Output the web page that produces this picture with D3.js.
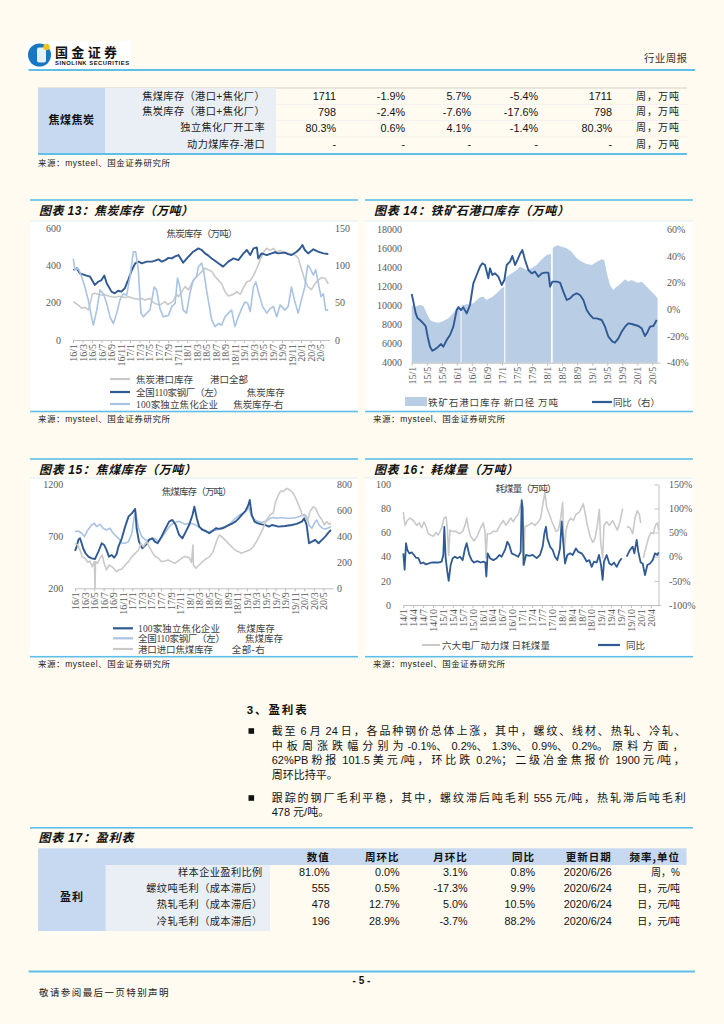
<!DOCTYPE html>
<html><head><meta charset="utf-8">
<script src="https://cdn.jsdelivr.net/npm/d3@7"></script>
<style>
html,body{margin:0;padding:0;background:#fffbf0;}
svg{display:block;}
</style></head><body>
<svg id="page" width="724" height="1024"></svg>
<script>
// ---------------- DATA ----------------
// top table (焦煤焦炭)
const coalGroup = "焦煤焦炭";
const coalLabels = ["焦煤库存（港口+焦化厂）","焦炭库存（港口+焦化厂）","独立焦化厂开工率","动力煤库存-港口"];
const coalValues = [
  ["1711","-1.9%","5.7%","-5.4%","1711"],
  ["798","-2.4%","-7.6%","-17.6%","798"],
  ["80.3%","0.6%","4.1%","-1.4%","80.3%"],
  ["-","-","-","-","-"]
];
const coalUnits = ["周，万吨","周，万吨","周，万吨","周，万吨"];

// Chart 13 焦炭库存 : [months since 2016-01, value]
const c13Ticks = ["16/1","16/3","16/5","16/7","16/9","16/11","17/1","17/3","17/5","17/7","17/9","17/11","18/1","18/3","18/5","18/7","18/9","18/11","19/1","19/3","19/5","19/7","19/9","19/11","20/1","20/3","20/5"];
const c13LeftTicks = [0,200,400,600];
const c13RightTicks = [0,50,100,150];
const cokePort = [[0.07,205],[1.12,187],[1.82,170],[2.53,175],[3.23,161],[3.65,200],[4.07,246],[4.63,250],[5.33,245],[6.04,241],[6.74,243],[7.44,236],[8.14,232],[8.84,229],[9.54,234],[10.25,232],[10.95,228],[11.65,232],[12.7,223],[13.75,218],[14.46,222],[15.16,214],[16.2,223],[16.7,205],[17.26,196],[18.3,188],[19.4,205],[19.9,190],[20.4,196],[21.1,210],[21.8,245],[22.2,232],[22.9,259],[23.6,286],[24.3,268],[25.0,304],[25.7,330],[26.4,348],[27.1,366],[27.8,384],[28.5,375],[29.2,368],[29.9,340],[30.6,321],[31.3,300],[32.0,259],[32.7,236],[33.4,241],[34.1,250],[34.5,259],[35.2,245],[35.9,280],[36.6,312],[37.3,318],[38.0,345],[38.7,384],[39.4,429],[40.1,470],[40.8,491],[41.5,480],[42.2,491],[42.9,470],[43.6,480],[44.6,470],[45.7,462],[46.7,455],[47.4,440],[48.1,380],[48.8,320],[49.5,285],[50.2,270],[50.9,300],[51.6,321],[52.4,335],[53.1,330],[53.75,300]];
const cokeSteel110 = [[0.07,375],[0.77,384],[1.47,357],[2.5,348],[3.6,339],[4.6,295],[5.3,312],[6.0,321],[6.6,345],[7.1,304],[8.1,259],[8.8,250],[9.5,264],[10.2,259],[10.9,277],[11.6,321],[12.4,375],[13.1,411],[13.8,420],[14.5,411],[15.5,420],[16.6,420],[17.3,425],[18.0,432],[18.7,420],[19.4,428],[20.1,440],[20.8,437],[21.5,448],[22.2,455],[23.2,414],[24.3,446],[25.3,473],[26.4,491],[27.1,482],[27.8,464],[28.5,452],[29.2,437],[29.9,425],[30.6,411],[31.6,393],[32.7,420],[33.8,437],[34.8,428],[35.9,464],[36.6,482],[37.3,455],[38.0,491],[38.7,496],[39.0,437],[39.7,464],[40.8,455],[41.8,464],[42.5,470],[43.2,464],[44.6,468],[45.3,460],[46.0,455],[47.1,473],[47.8,490],[48.3,509],[48.8,482],[49.5,464],[50.6,486],[51.6,473],[52.7,464],[53.75,461]];
const cokeIndep100 = [[0.07,109],[0.4,94],[1.1,96],[1.8,85],[2.5,71],[3.2,54],[3.9,31],[4.3,20],[5.0,40],[5.7,67],[6.4,62],[7.1,49],[7.8,31],[8.5,22],[9.2,36],[9.9,54],[10.6,62],[11.3,60],[12.0,85],[12.7,118],[13.2,118],[13.75,94],[14.3,36],[14.8,31],[15.5,36],[16.2,40],[17.1,71],[17.6,67],[18.3,42],[19.0,31],[20.1,33],[20.8,45],[21.5,49],[22.0,83],[22.5,71],[23.2,40],[23.9,36],[24.6,62],[25.3,80],[26.0,85],[26.4,98],[27.1,103],[27.6,89],[28.1,67],[29.2,27],[29.9,18],[30.6,22],[31.3,20],[32.0,31],[32.7,36],[33.4,40],[34.1,18],[34.8,31],[35.5,42],[36.2,51],[36.8,49],[37.3,38],[38.0,71],[38.5,78],[39.0,65],[39.9,45],[40.8,36],[41.5,42],[42.2,45],[42.9,31],[43.6,47],[44.6,40],[45.3,45],[46.0,71],[46.6,54],[47.4,36],[48.1,54],[48.8,71],[49.4,100],[49.9,96],[50.6,87],[51.1,94],[51.6,78],[52.2,58],[52.7,62],[53.2,40],[53.75,40]];

// Chart 14 铁矿石港口库存 : [months since 2015-01, value]
const c14Ticks = ["15/1","15/5","15/9","16/1","16/5","16/9","17/1","17/5","17/9","18/1","18/5","18/9","19/1","19/5","19/9","20/1","20/5"];
const c14LeftTicks = [4000,6000,8000,10000,12000,14000,16000,18000];
const c14RightTicks = [-40,-20,0,20,40,60];
const orePort = [[0,10055],[0.88,9880],[2.2,10055],[3.1,9950],[3.98,9180],[4.87,8480],[5.75,8305],[7.1,8200],[7.97,8305],[8.9,8480],[9.75,8655],[10.6,9000],[11.96,9700],[12.4,9950],[13.0,10000],[13.1,null],[13.25,10020],[13.7,10055],[15.1,10160],[16.4,10230],[17.3,10580],[18.2,10860],[19.05,10930],[19.9,10580],[21.3,10860],[22.6,11280],[23.9,11805],[24.6,11980],[24.75,null],[24.9,12900],[25.3,13030],[26.6,13380],[27.9,13730],[28.8,14080],[29.7,13905],[30.6,13730],[31.9,13905],[33.2,14255],[34.6,14850],[35.9,15300],[37.05,15410],[37.3,null],[37.5,16000],[37.9,16180],[38.8,16320],[39.9,16180],[41.2,16000],[42.5,15655],[43.9,14955],[45.2,14600],[46.5,14360],[47.9,14255],[49.2,14600],[50.5,14850],[51.2,14780],[51.9,13380],[52.7,12155],[53.6,11630],[54.5,11980],[55.7,12330],[56.7,12750],[57.6,12505],[58.5,12680],[59.4,12500],[60.3,12400],[61.2,12500],[62.05,12155],[62.9,11805],[63.8,11455],[64.7,11105],[65.4,10755]];
const oreYoY = [[0,11.5],[0.44,5.75],[1.06,-3],[1.59,-6.75],[2.21,-8],[3.1,-10.5],[3.71,-12.5],[4.25,-20.5],[4.87,-28],[5.49,-31],[6.2,-30],[7.08,-28],[7.8,-26],[8.41,-28],[9.3,-23],[10.19,-19.25],[11.07,-13],[11.96,-0.5],[12.4,1.5],[13.11,-0.5],[13.73,1.5],[14.62,-3],[15.5,3.25],[16.39,19.5],[17.28,25.75],[18.17,32],[18.79,34.5],[19.5,33.25],[20.38,23.25],[20.82,30.75],[21.45,25.75],[22.16,27],[23.04,24.5],[23.93,18.25],[24.64,22],[25.26,33.25],[26.15,35.75],[26.77,40],[27.48,33.25],[28.19,37.5],[28.81,41.5],[29.43,44.5],[30.14,37],[31.02,29.5],[31.91,27],[32.8,28.25],[33.69,24.5],[34.57,27],[35.46,27.5],[36.35,27.5],[36.79,17],[37.41,20.75],[38.56,20.75],[39.45,20],[40.33,13.25],[41.22,7],[42.1,8.25],[42.99,10.75],[43.88,12],[44.76,10.75],[45.65,7],[46.54,-0.5],[47.42,-4.25],[48.31,-6.75],[49.2,-6.75],[50.52,-8],[51.41,-13],[52.3,-20.5],[53.36,-24.25],[54.07,-25],[54.96,-21.75],[55.84,-16.75],[56.73,-13],[57.61,-10.5],[58.5,-11],[59.39,-11.75],[60.27,-12.5],[61.16,-14.25],[62.04,-20],[62.75,-16.75],[63.37,-13],[64.26,-12.5],[65.15,-8]];

// Chart 15 焦煤库存 : [months since 2016-01, value]
const c15Ticks = c13Ticks;
const c15LeftTicks = [200,700,1200];
const c15RightTicks = [0,200,400,600,800];
const coalIndep100 = [[0,559],[0.35,601],[0.7,665],[1.05,681],[1.4,633],[1.7,585],[2.2,537],[2.8,504],[3.5,488],[4.2,482],[4.9,553],[5.6,633],[6.1,617],[6.6,569],[7.1,504],[7.7,520],[8.2,495],[8.7,527],[9.1,601],[9.8,681],[10.5,793],[11.2,889],[11.9,921],[12.6,963],[12.9,777],[13.4,649],[14.1,585],[14.8,617],[15.5,665],[16.2,681],[16.7,649],[17.3,633],[18.1,697],[18.8,761],[19.7,841],[20.4,857],[21.1,809],[21.8,713],[22.5,681],[23.2,745],[23.9,809],[24.6,905],[25.0,985],[25.5,873],[26.0,793],[26.7,761],[27.4,751],[28.1,729],[28.8,751],[29.5,777],[30.2,771],[30.9,777],[31.6,793],[32.3,809],[33.0,825],[33.6,841],[34.3,873],[35.0,911],[35.7,944],[36.3,1001],[36.6,1049],[37.0,905],[37.6,841],[38.3,825],[39.1,815],[39.8,809],[40.6,793],[41.3,809],[42.6,793],[44.0,799],[45.4,809],[46.4,819],[47.5,841],[48.0,873],[48.5,809],[49.0,633],[49.6,649],[50.3,665],[51.0,633],[51.7,665],[52.4,697],[53.1,738],[53.6,761]];
const coalSteel110 = [[0,745],[0.7,751],[1.4,729],[1.95,697],[2.7,761],[3.5,809],[4.1,825],[4.5,793],[5.2,815],[5.9,777],[6.6,761],[7.3,777],[8.0,729],[8.7,697],[9.4,665],[9.9,633],[10.5,633],[11.2,649],[11.9,729],[12.4,889],[12.7,931],[13.3,777],[14.0,697],[14.7,665],[15.4,665],[16.1,681],[16.8,675],[17.5,649],[18.1,681],[18.8,729],[19.5,777],[20.2,815],[21.3,841],[22.0,841],[23.0,815],[24.1,825],[25.0,815],[25.8,793],[26.7,771],[27.6,738],[28.6,751],[29.7,761],[30.6,783],[31.4,793],[32.1,809],[32.8,835],[33.6,873],[34.6,911],[35.3,921],[36.0,953],[36.4,976],[37.0,889],[37.7,857],[38.4,841],[39.2,835],[40.1,847],[40.8,873],[41.5,880],[42.2,873],[43.3,880],[44.3,873],[45.4,873],[46.4,880],[47.5,899],[48.0,911],[48.5,889],[49.0,809],[49.6,777],[50.1,825],[50.6,857],[51.1,809],[51.8,777],[52.5,771],[53.1,783],[53.6,793]];
const coalPortImport = [[0,346],[0.56,333],[1.05,295],[1.5,244],[2.1,231],[2.7,200],[3.1,210],[3.6,167],[4.05,205],[4.2,0],[4.3,205],[4.7,192],[5.2,231],[5.7,256],[6.1,192],[6.6,141],[7.1,179],[7.7,167],[8.2,149],[8.7,128],[9.1,141],[9.8,149],[10.5,179],[11.2,205],[11.9,244],[12.6,269],[13.3,295],[13.8,346],[14.3,320],[15.0,359],[15.5,320],[16.1,282],[16.8,244],[17.5,231],[18.1,205],[18.8,210],[19.5,218],[20.2,205],[20.9,192],[21.6,210],[22.3,231],[23.0,244],[23.9,236],[24.4,200],[24.7,333],[24.8,179],[25.3,154],[26.0,179],[26.7,205],[27.4,226],[28.2,244],[28.9,282],[29.6,359],[30.2,410],[30.7,397],[31.4,372],[32.1,346],[32.8,320],[33.5,295],[34.2,282],[34.9,269],[35.6,282],[36.6,295],[37.3,320],[38.0,359],[38.7,410],[39.4,462],[40.1,526],[40.8,564],[41.5,577],[42.0,667],[42.6,718],[43.1,749],[43.6,744],[44.3,769],[45.0,756],[45.7,731],[46.4,679],[47.1,615],[47.6,564],[48.2,551],[48.7,513],[49.2,590],[49.9,628],[50.4,615],[51.0,564],[51.7,526],[52.2,487],[52.7,513],[53.2,492],[53.6,500]];

// Chart 16 耗煤量 : [months since 2014-01, value]
const c16Ticks = ["14/1","14/4","14/7","14/10","15/1","15/4","15/7","15/10","16/1","16/4","16/7","16/10","17/1","17/4","17/7","17/10","18/1","18/4","18/7","18/10","19/1","19/4","19/7","19/10","20/1","20/4"];
const c16LeftTicks = [0,20,40,60,80,100];
const c16RightTicks = [-100,-50,0,50,100,150];
const dailyBurn = [[0.01,77],[0.52,66],[1.22,70],[2.03,72],[3.04,70],[4.05,66],[4.86,68],[5.57,64],[6.27,69],[6.88,65],[7.59,59],[8.29,58],[9.1,57],[9.91,60],[10.62,58],[11.63,64],[12.33,72],[12.94,73],[13.34,64],[13.75,41],[14.15,62],[14.96,61],[15.97,61],[16.98,59],[17.99,61],[18.7,66],[19.2,72],[19.71,64],[20.41,57],[21.42,53],[22.43,57],[23.44,64],[24.25,68],[24.76,61],[25.06,39],[25.46,59],[26.27,59],[27.28,61],[28.29,61],[29.3,66],[30.31,70],[31.12,66],[31.83,69],[32.54,72],[33.34,69],[34.15,73],[34.86,75],[35.57,83],[35.97,80],[36.37,33],[36.88,65],[37.89,66],[38.9,68],[39.91,66],[40.92,69],[41.63,72],[42.43,86],[42.94,93],[43.44,81],[44.25,75],[45.06,69],[45.67,65],[46.27,61],[46.98,62],[47.69,72],[48.29,85],[48.7,41],[49.3,62],[50.01,69],[50.72,72],[51.53,70],[52.33,75],[53.34,77],[54.05,81],[54.56,84],[55.16,75],[55.77,66],[56.58,57],[57.38,52],[58.09,55],[58.8,66],[59.4,79],[59.81,52],[60.41,39],[60.82,66],[61.63,69],[62.43,66],[63.44,70],[64.15,66],[64.86,62],[65.67,69],[66.47,80],[67.1,null],[67.69,65],[68.7,64],[69.51,59],[70.21,72],[70.92,78],[71.53,75],[71.93,68],[72.4,null],[72.74,39],[73.55,48],[74.25,55],[74.96,60],[75.77,59],[76.37,66],[76.98,68],[77.38,62]];
const dailyBurnYoY = [[0.01,7],[0.41,-27],[0.82,28],[1.22,14],[1.83,7],[2.54,9],[3.24,3.6],[3.85,-2],[4.56,-3],[5.26,-14],[6.07,-12],[6.88,-16],[7.69,-14],[8.6,-12],[9.61,-12],[10.62,-12],[11.63,-10],[12.13,3.6],[12.43,62],[12.84,-3],[13.34,-31],[13.75,-50],[14.35,-17],[14.96,-3],[15.67,0],[16.37,-3],[17.18,0],[17.99,-7],[18.7,17],[19.2,28],[20.01,3.6],[20.72,-7],[21.42,-12],[22.43,-9],[23.44,-12],[24.25,-10],[24.86,-12],[25.16,-41],[25.57,7],[26.27,-3],[27.28,-7],[28.29,-3],[29.1,3.6],[29.81,0],[30.82,14],[31.53,31],[32.13,24],[32.84,7],[33.85,3.6],[34.86,0],[35.57,10],[35.87,117],[36.17,100],[36.47,-17],[37.18,3.6],[38.19,2],[39.2,3.6],[40.41,-3],[41.42,3.6],[42.23,21],[42.74,48],[43.24,62],[43.65,38],[44.45,21],[45.26,14],[45.97,0],[46.68,-7],[47.48,17],[47.99,73],[48.49,28],[49.0,-14],[49.71,3.6],[50.52,7],[51.32,3.6],[52.33,17],[53.04,10],[54.05,7],[54.76,0],[55.57,-10],[56.37,-7],[57.08,-21],[57.79,-10],[58.6,-12],[59.3,3.6],[59.91,-17],[60.41,-48],[60.82,-10],[61.63,3.6],[62.43,-14],[63.14,-17],[63.85,-12],[64.66,-21],[65.46,-10],[66.17,-3],[67.1,null],[67.69,0],[68.7,14],[69.51,21],[70.01,7],[70.72,35],[71.22,10],[71.93,-12],[72.54,-14],[73.24,-38],[73.95,-17],[74.76,-14],[75.57,-7],[76.27,7],[76.98,3.6],[77.38,9]];

// Table 17 盈利表
const profitHeader = ["数值","周环比","月环比","同比","更新日期","频率,单位"];
const profitGroup = "盈利";
const profitLabels = ["样本企业盈利比例","螺纹吨毛利（成本滞后）","热轧毛利（成本滞后）","冷轧毛利（成本滞后）"];
const profitValues = [
  ["81.0%","0.0%","3.1%","0.8%","2020/6/26","周，%"],
  ["555","0.5%","-17.3%","9.9%","2020/6/24","日，元/吨"],
  ["478","12.7%","5.0%","10.5%","2020/6/24","日，元/吨"],
  ["196","28.9%","-3.7%","88.2%","2020/6/24","日，元/吨"]
];

// ---------------- DRAWING ----------------
const svg = d3.select("#page");
const BG="#fffbf0", CYAN="#5ebfe9";
const DARK="#2f5a93", LIGHT="#a9c3e4", GRAY="#c9c9c9", AREA="#b9cde5";
const TBLUE="#c6d9f0", TLIGHT="#eaeef5";
const CJK='"Noto Sans CJK SC","Noto Sans",sans-serif';
const MIX='"Liberation Sans","Noto Sans CJK SC",sans-serif';
const SERIF='"Liberation Serif","DejaVu Serif",serif';
const SERIFMIX='"Liberation Serif","Noto Sans CJK SC",serif';
const SANS='"Liberation Sans",Arial,sans-serif';

svg.append("rect").attr("width",724).attr("height",1024).attr("fill",BG);

function txt(x,y,s,o={}){
  const t=svg.append("text").attr("x",x).attr("y",y).text(s)
    .attr("font-family",o.ff||CJK).attr("font-size",o.fs||10)
    .attr("fill",o.fill||"#222").attr("text-anchor",o.anchor||"start");
  if(o.fw) t.attr("font-weight",o.fw);
  if(o.italic) t.attr("font-style","italic");
  if(o.ls) t.attr("letter-spacing",o.ls);
  if(o.tl) t.attr("textLength",o.tl).attr("lengthAdjust",o.la||"spacing");
  return t;
}
// justified paragraph line: extra space goes to CJK glyphs only, Latin runs stay tight
function justLine(x,y,s,target){
  const t=svg.append("text").attr("x",x).attr("y",y).attr("font-family",MIX).attr("font-size",11).attr("fill","#111");
  const runs=s.match(/[\u3000-\u9fff\uff00-\uffef]+|[^\u3000-\u9fff\uff00-\uffef]+/g);
  const cjkSpans=[]; let n=0;
  runs.forEach(r=>{
    const isC=/[\u3000-\u9fff\uff00-\uffef]/.test(r);
    const sp=t.append("tspan").text(r).attr("font-family",isC?CJK:SANS);
    if(isC){cjkSpans.push(sp);n+=r.length;}
  });
  if(target){
    const w=t.node().getComputedTextLength();
    const ls=Math.max(0,(target-w)/n);
    cjkSpans.forEach(sp=>sp.attr("letter-spacing",ls));
  }
  return t;
}
function hline(x1,x2,y,c,w){svg.append("line").attr("x1",x1).attr("x2",x2).attr("y1",y).attr("y2",y).attr("stroke",c).attr("stroke-width",w);}

// header
svg.append("rect").attr("x",25).attr("y",41).attr("width",106).attr("height",28).attr("fill","#fff");
svg.append("circle").attr("cx",39.5).attr("cy",55).attr("r",11.5).attr("fill","#1877c0");
svg.append("rect").attr("x",37).attr("y",47.5).attr("width",9).attr("height",15).attr("rx",2).attr("fill","#e4f1fa");
svg.append("circle").attr("cx",46.5).attr("cy",47).attr("r",3.2).attr("fill","#f3c11b");
txt(55,57,"国金证券",{fs:13,fw:"bold",fill:"#111",tl:62});
txt(55,64.5,"SINOLINK SECURITIES",{ff:SANS,fs:5.8,fw:"bold",fill:"#111",tl:74});
txt(644,62,"行业周报",{fs:10.5,fill:"#333",tl:43});
svg.append("rect").attr("x",28.6).attr("y",69).attr("width",666.5).attr("height",2).attr("fill",CYAN);

// top table
hline(38,687,88,"#c8c8c8",0.8);
svg.append("rect").attr("x",38).attr("y",88).attr("width",67).attr("height",66).attr("fill",TBLUE);
svg.append("rect").attr("x",105).attr("y",88).attr("width",171).attr("height",66).attr("fill",TLIGHT);
[104.5,120.5,137].forEach(y=>hline(105,687,y,"#ececec",0.6));
svg.append("rect").attr("x",38).attr("y",153).attr("width",649).attr("height",2).attr("fill",CYAN);
txt(71.5,124,coalGroup,{fs:11,fw:"bold",anchor:"middle",ls:0.5,fill:"#111"});
const coalRowY=[96,111.5,127.5,144];
const coalColX=[336,405,471,538,612];
coalLabels.forEach((l,i)=>{
  txt(265,coalRowY[i]+3.8,l,{ff:MIX,fs:10.2,anchor:"end",fill:"#222",ls:0.4});
  coalValues[i].forEach((v,j)=>txt(coalColX[j],coalRowY[i]+4,v,{ff:SANS,fs:10.8,anchor:"end",fill:"#111"}));
  txt(636,coalRowY[i]+3.8,coalUnits[i],{fs:10,fill:"#222",tl:43});
});
txt(38,166,"来源：mysteel、国金证券研究所",{ff:MIX,fs:8.5,fill:"#222",tl:132});

// panels
function panel(x0,x1,yTop,yBody,yBot,title,titleLen){
  svg.append("rect").attr("x",x0).attr("y",yBody).attr("width",x1-x0).attr("height",yBot-yBody).attr("fill","#fff");
  svg.append("rect").attr("x",x0).attr("y",yTop-0.8).attr("width",x1-x0).attr("height",1.6).attr("fill",CYAN);
  hline(x0,x1,yBody,"#d6ebf4",0.8);
  txt(x0+9,yTop+14.5,title,{ff:MIX,fs:12,fw:"bold",italic:true,fill:"#111",tl:titleLen});
  svg.append("rect").attr("x",x0).attr("y",yBot-0.8).attr("width",x1-x0).attr("height",1.6).attr("fill",CYAN);
  txt(x0+8,yBot+10,"来源：mysteel、国金证券研究所",{ff:MIX,fs:8.5,fill:"#222",tl:132});
}
panel(30,358,200,221,411.5,"图表 13：焦炭库存（万吨）",154);
panel(365,693,200,221,411.5,"图表 14：铁矿石港口库存（万吨）",195);
panel(30,358,459,478,656.7,"图表 15：焦煤库存（万吨）",157);
panel(365,693,459,478,656.7,"图表 16：耗煤量（万吨）",144);

function monthOf(lbl,base){const [y,m]=lbl.split("/").map(Number);return (y-base)*12+(m-1);}
function styleText(sel,ff){sel.selectAll("text").attr("font-family",ff||SERIF).attr("font-size",10).attr("fill","#595959");}
function yLeft(scale,vals,fmt,x){
  const a=svg.append("g").attr("transform",`translate(${x},0)`).call(d3.axisLeft(scale).tickValues(vals).tickFormat(fmt).tickSize(0).tickPadding(0));
  a.select(".domain").remove(); styleText(a); return a;
}
function yRight(scale,vals,fmt,x,tick){
  const a=svg.append("g").attr("transform",`translate(${x},0)`).call(d3.axisRight(scale).tickValues(vals).tickFormat(fmt).tickSizeInner(tick||0).tickSizeOuter(0).tickPadding(tick?(-tick+6.5):0));
  if(!tick) a.select(".domain").remove(); else {a.select(".domain").attr("stroke","#bfbfbf");a.selectAll("line").attr("stroke","#bfbfbf");}
  styleText(a); return a;
}
function xRot(scale,labels,base,y){
  const pos=labels.map(l=>monthOf(l,base));
  const a=svg.append("g").attr("transform",`translate(0,${y})`).call(d3.axisBottom(scale).tickValues(pos).tickFormat((d,i)=>labels[i]).tickSizeInner(3).tickSizeOuter(0));
  a.select(".domain").attr("stroke","#bfbfbf");
  a.selectAll("line").attr("stroke","#bfbfbf");
  a.selectAll("text").attr("transform","rotate(-90)").attr("text-anchor","end").attr("x",-4).attr("y",0).attr("dy","0.35em")
    .attr("font-family",SERIF).attr("font-size",10).attr("fill","#595959");
  return a;
}
function drawLine(data,x,y,color,w){
  svg.append("path").datum(data).attr("fill","none").attr("stroke",color).attr("stroke-width",w).attr("stroke-linejoin","round")
   .attr("d",d3.line().defined(d=>d[1]!=null).x(d=>x(d[0])).y(d=>y(d[1])));
}
function legLine(x1,x2,y,color,w){hline(x1,x2,y,color,w);}
function legText(x,y,s,len){txt(x,y,s,{ff:SERIFMIX,fs:9.5,fill:"#404040",tl:len});}

// ---- Chart 13
{
  const x=d3.scaleLinear().domain([0,54]).range([73,329.5]);
  const yL=d3.scaleLinear().domain([0,600]).range([340,228]);
  const yR=d3.scaleLinear().domain([0,150]).range([340,228]);
  yLeft(yL,c13LeftTicks,d3.format("d"),61);
  yRight(yR,c13RightTicks,d3.format("d"),335);
  xRot(x,c13Ticks,16,340);
  txt(202,236.5,"焦炭库存（万吨）",{fs:9.5,anchor:"middle",fill:"#404040",tl:71});
  drawLine(cokePort,x,yL,GRAY,1.6);
  drawLine(cokeSteel110,x,yL,DARK,1.9);
  drawLine(cokeIndep100,x,yR,LIGHT,1.6);
  const L=[[GRAY,"焦炭港口库存",57,"港口全部",210,38],[DARK,"全国110家钢厂（左）",87,"焦炭库存",246.7,38],[LIGHT,"100家独立焦化企业",82,"焦炭库存-右",233.3,50]];
  [379,392,404].forEach((yy,i)=>{legLine(110,130,yy,L[i][0],2.2);legText(136,yy+3.5,L[i][1],L[i][2]);legText(L[i][4],yy+3.5,L[i][3],L[i][5]);});
}
// ---- Chart 14
{
  const x=d3.scaleLinear().domain([0,66]).range([411.7,659.9]);
  const yL=d3.scaleLinear().domain([4000,18000]).range([362.7,229.3]);
  const yR=d3.scaleLinear().domain([-40,60]).range([362.7,229.3]);
  svg.append("path").datum(orePort).attr("fill",AREA)
    .attr("d",d3.area().defined(d=>d[1]!=null).x(d=>x(d[0])).y0(yL(4000)).y1(d=>yL(d[1])));
  yLeft(yL,c14LeftTicks,d3.format("d"),402);
  yRight(yR,c14RightTicks,d=>d+"%",667);
  xRot(x,c14Ticks,15,362.7);
  drawLine(oreYoY,x,yR,DARK,1.9);
  svg.append("rect").attr("x",405).attr("y",397).attr("width",22).attr("height",9).attr("fill",AREA);
  txt(428,405.5,"铁矿石港口库存 新口径 万吨",{fs:9.5,fill:"#404040",tl:130});
  legLine(592,612,402,DARK,2.2);
  txt(613,405.5,"同比（右）",{fs:9.5,fill:"#404040",tl:47});
}
// ---- Chart 15
{
  const x=d3.scaleLinear().domain([0,54]).range([75,332.9]);
  const yL=d3.scaleLinear().domain([200,1200]).range([588.3,484.3]);
  const yR=d3.scaleLinear().domain([0,800]).range([588.3,484.3]);
  yLeft(yL,c15LeftTicks,d3.format("d"),63.3);
  yRight(yR,c15RightTicks,d3.format("d"),337);
  xRot(x,c15Ticks,16,588.3);
  txt(196.7,494.5,"焦煤库存（万吨）",{fs:9.5,anchor:"middle",fill:"#404040",tl:70});
  drawLine(coalSteel110,x,yL,LIGHT,1.6);
  drawLine(coalIndep100,x,yL,DARK,1.9);
  drawLine(coalPortImport,x,yR,GRAY,1.6);
  const L=[[DARK,"100家独立焦化企业",82,"焦煤库存",236.7,38],[LIGHT,"全国110家钢厂（左）",87,"焦煤库存",245,38],[GRAY,"港口进口焦煤库存",75,"全部-右",231.7,33]];
  [628.3,638.3,649].forEach((yy,i)=>{legLine(113,133,yy,L[i][0],2.2);legText(138,yy+3.5,L[i][1],L[i][2]);legText(L[i][4],yy+3.5,L[i][3],L[i][5]);});
}
// ---- Chart 16
{
  const x=d3.scaleLinear().domain([0,78]).range([403.3,660.7]);
  const yL=d3.scaleLinear().domain([0,100]).range([605,484.3]);
  const yR=d3.scaleLinear().domain([-100,150]).range([605,484.3]);
  yLeft(yL,c16LeftTicks,d3.format("d"),391);
  yRight(yR,c16RightTicks,d=>d+"%",658.5,-4);
  xRot(x,c16Ticks,14,605);
  txt(526,491.5,"耗煤量（万吨）",{fs:9.5,anchor:"middle",fill:"#404040",tl:61});
  drawLine(dailyBurn,x,yL,GRAY,1.6);
  drawLine(dailyBurnYoY,x,yR,DARK,1.8);
  legLine(422,440,645,GRAY,2);
  txt(442,648.5,"六大电厂动力煤 日耗煤量",{fs:9.5,fill:"#404040",tl:108});
  legLine(598,620,645,DARK,2.2);
  txt(626,648.5,"同比",{fs:9.5,fill:"#404040"});
}

// section 3 text
txt(246.7,714,"3、盈利表",{ff:MIX,fs:11.5,fw:"bold",fill:"#111",tl:60});
const paraLines=[
  ["截至 6 月 24 日，各品种钢价总体上涨，其中，螺纹、线材、热轧、冷轧、",735,416],
  ["中板周涨跌幅分别为-0.1%、0.2%、1.3%、0.9%、0.2%。原料方面，",749.7,416],
  ["62%PB 粉报 101.5 美元/吨，环比跌 0.2%；二级冶金焦报价 1900 元/吨，",764,416],
  ["周环比持平。",779,null],
  ["跟踪的钢厂毛利平稳，其中，螺纹滞后吨毛利 555 元/吨，热轧滞后吨毛利",802,416],
  ["478 元/吨。",816,null]
];
paraLines.forEach(p=>justLine(271.7,p[1],p[0],p[2]));
[731,798].forEach(y=>svg.append("rect").attr("x",248.5).attr("y",y-2.8).attr("width",5.6).attr("height",5.6).attr("fill","#111"));

// table 17
svg.append("rect").attr("x",30).attr("y",827).attr("width",663).attr("height",1.6).attr("fill",CYAN);
txt(38.4,842,"图表 17：盈利表",{ff:MIX,fs:12,fw:"bold",italic:true,fill:"#111",tl:95});
svg.append("rect").attr("x",38).attr("y",848.3).attr("width",648.6).attr("height",16.7).attr("fill",TBLUE);
svg.append("rect").attr("x",38).attr("y",865).attr("width",67.8).attr("height",66).attr("fill",TBLUE);
svg.append("rect").attr("x",105.8).attr("y",865).attr("width",164.2).attr("height",66).attr("fill",TLIGHT);
const pColX=[329.7,399.5,467.7,535,611.7,680];
profitHeader.forEach((h,j)=>txt(pColX[j],860.5,h,{fs:10.5,fw:"bold",anchor:"end",fill:"#111",ls:1}));
txt(72,900.5,profitGroup,{fs:11,fw:"bold",anchor:"middle",fill:"#111",ls:1});
const pRowY=[871.7,887.7,904.3,921];
profitLabels.forEach((l,i)=>{
  txt(262.7,pRowY[i]+3.8,l,{fs:10.2,anchor:"end",fill:"#222",ls:0.4});
  profitValues[i].forEach((v,j)=>{
    const isCJK=j===5;
    txt(pColX[j],pRowY[i]+4,v,{ff:isCJK?MIX:SANS,fs:isCJK?10:10.8,anchor:"end",fill:"#111"});
  });
});

// footer
svg.append("rect").attr("x",28.6).attr("y",970.5).attr("width",666.5).attr("height",2).attr("fill",CYAN);
txt(361.5,983.5,"- 5 -",{ff:SANS,fs:10,fw:"bold",anchor:"middle",fill:"#111"});
txt(39,995.5,"敬请参阅最后一页特别声明",{fs:9.5,fill:"#222",tl:129.5});
</script>
</body></html>
